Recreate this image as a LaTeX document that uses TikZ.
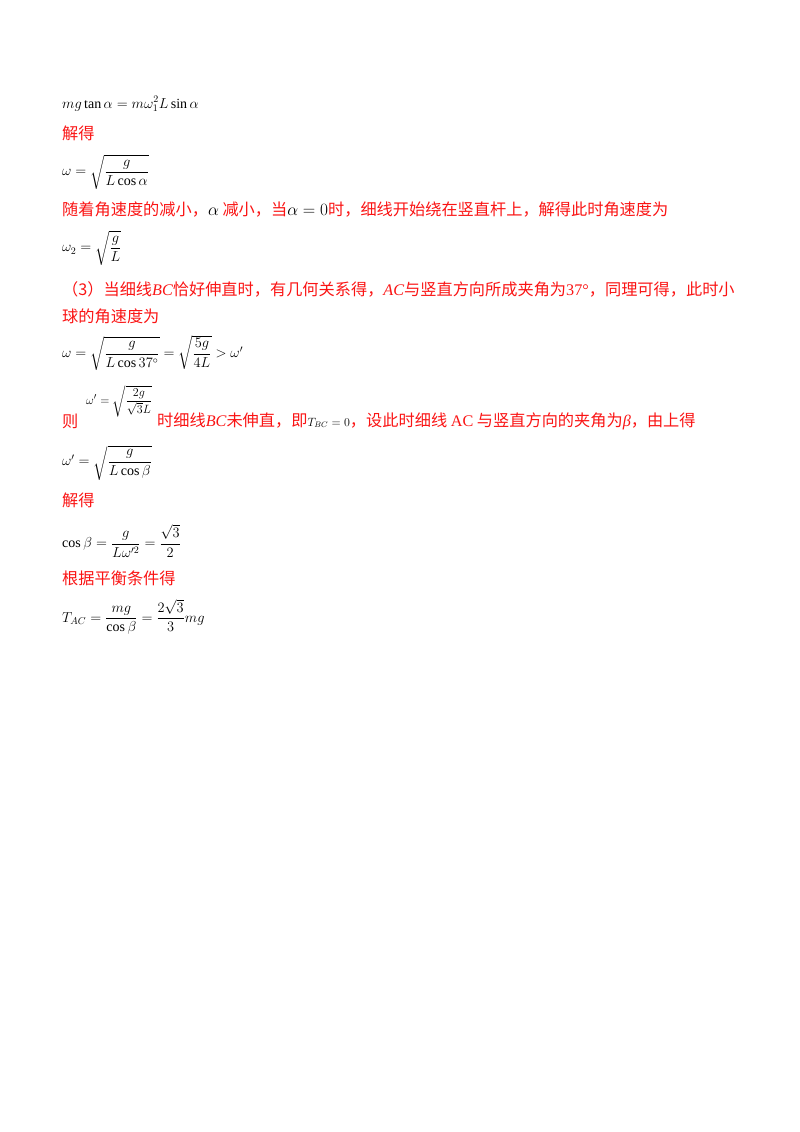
\documentclass[tikz,border=0pt]{standalone}
\usepackage{amsmath,amssymb}
\usepackage{xcolor}
\usepackage{fontspec}
\setmainfont{Liberation Serif}
\newfontfamily\cjk{Noto Sans CJK SC}
\usetikzlibrary{positioning}
\definecolor{ansred}{RGB}{250,20,20}
\tikzset{
  red line/.style={anchor=west, inner sep=0pt, text=ansred, font=\fontsize{16.2pt}{18pt}\selectfont\cjk},
  eq/.style={anchor=west, inner sep=0pt, font=\fontsize{14pt}{16pt}\selectfont}
}
\begin{document}
\begin{tikzpicture}[x=1pt,y=-1pt]
  \useasboundingbox (0,0) rectangle (800,1132);
  % first block
  \node[eq] (eqa) at (62,104) {$mg\tan\alpha = m\omega_1^2 L\sin\alpha$};
  \node[red line] (solvea) at (62,133) {解得};
  \node[eq] (eqb) at (62,172) {$\omega=\sqrt{\dfrac{g}{L\cos\alpha}}$};
  \node[red line] (texta) at (62,210) {随着角速度的减小，{\normalfont\color{black}$\alpha$} 减小，当{\normalfont\color{black}$\alpha=0$}时，细线开始绕在竖直杆上，解得此时角速度为};
  \node[eq] (eqc) at (62,248) {$\omega_2=\sqrt{\dfrac{g}{L}}$};
  % part (3)
  \node[red line] (textb) at (62,289) {（3）当细线{\normalfont\itshape BC}恰好伸直时，有几何关系得，{\normalfont\itshape AC}与竖直方向所成夹角为{\normalfont 37°}，同理可得，此时小};
  \node[red line] (textc) at (62,316) {球的角速度为};
  \node[eq] (eqd) at (62,353) {$\omega=\sqrt{\dfrac{g}{L\cos 37^\circ}}=\sqrt{\dfrac{5g}{4L}}>\omega'$};
  \node[red line] (textd) at (62,421) {则};
  \node[eq, font=\fontsize{13pt}{15pt}\selectfont] (eqe) at (86,401) {$\omega'=\sqrt{\dfrac{2g}{\sqrt{3}L}}$};
  \node[red line] (texte) at (157,421) {时细线{\normalfont\itshape BC}未伸直，即{\normalfont\color{black}\fontsize{12pt}{14pt}\selectfont$T_{BC}=0$}，设此时细线 {\normalfont AC} 与竖直方向的夹角为{\normalfont\itshape β}，由上得};
  \node[eq] (eqf) at (62,463) {$\omega'=\sqrt{\dfrac{g}{L\cos\beta}}$};
  \node[red line] (solveb) at (62,500) {解得};
  \node[eq] (eqg) at (62,541) {$\cos\beta=\dfrac{g}{L\omega'^2}=\dfrac{\sqrt{3}}{2}$};
  \node[red line] (textf) at (62,578) {根据平衡条件得};
  \node[eq] (eqh) at (62,617) {$T_{AC}=\dfrac{mg}{\cos\beta}=\dfrac{2\sqrt{3}}{3}mg$};
\end{tikzpicture}
\end{document}
